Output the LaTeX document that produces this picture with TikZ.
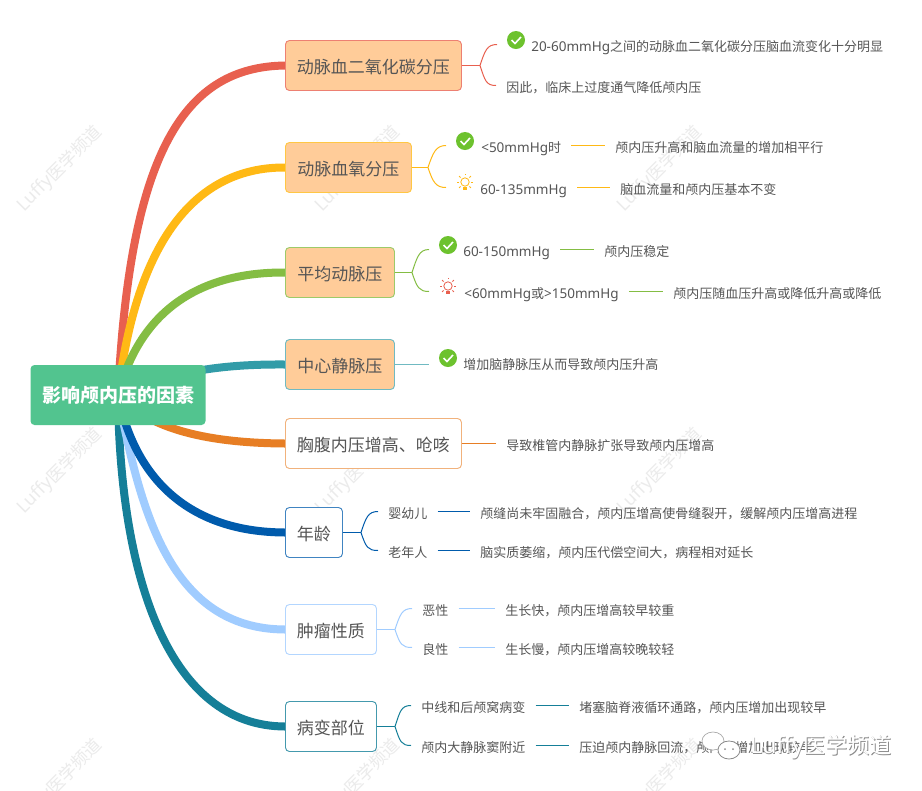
\documentclass[tikz,border=0pt]{standalone}
\usepackage{fontspec}
\setmainfont{Noto Sans CJK SC}
\newfontfamily\latf{Noto Sans}[Scale=1.04]
\usetikzlibrary{backgrounds,positioning}

\definecolor{rootgreen}{HTML}{52C48F}
\definecolor{peach}{HTML}{FFCC99}
\definecolor{inkgray}{HTML}{555555}
\definecolor{wred}{HTML}{E8604F}
\definecolor{wyellow}{HTML}{FFB915}
\definecolor{wgreen}{HTML}{84BD43}
\definecolor{wteal}{HTML}{329CA8}
\definecolor{worange}{HTML}{E77E24}
\definecolor{wblue}{HTML}{005BAC}
\definecolor{wsky}{HTML}{A0CCFF}
\definecolor{wsea}{HTML}{157F98}
\definecolor{okgreen}{HTML}{6DC22E}

\tikzset{
  rootbox/.style={rounded corners=3pt, fill=rootgreen, text=white, minimum width=131.25pt, minimum height=45pt, inner sep=0pt, font=\fontsize{14.25pt}{16pt}\selectfont\bfseries},
  topic/.style={draw=#1, rounded corners=3pt, line width=0.7pt, anchor=west, minimum height=37.5pt, inner sep=0pt, text height=13.5pt, text depth=1.6pt, text=inkgray, font=\fontsize{12.75pt}{15pt}\selectfont},
  leaf/.style={anchor=west, inner xsep=7.5pt, inner ysep=0pt, text height=12pt, text depth=1.2pt, text=inkgray, font=\fontsize{9.75pt}{12pt}\selectfont},
  branch/.style={line width=6pt, draw=#1},
  twig/.style={line width=0.75pt, draw=#1},
  link/.style={line width=1pt, draw=#1},
  stem/.style={line width=1.2pt, draw=#1},
  wmark/.style={rotate=45, text=black!8, font=\fontsize{13pt}{15pt}\selectfont},
  okicon/.style={circle, fill=okgreen, minimum size=13.5pt, inner sep=0pt},
  bulb/.pic={
    \draw[#1, line width=0.6pt] (0,-1) circle (4.2);
    \foreach \a in {0,45,135,180,225,315} \draw[#1, line width=0.6pt] (\a:6.2) ++(0,-1) -- ++(\a:2.2);
    \draw[#1, line width=0.6pt] (0,-9) -- (0,-8.2);
    \fill[#1] (-2.4,4) rectangle (2.4,7);
  },
}

\begin{document}
\begin{tikzpicture}[x=0.75pt, y=-0.75pt]
\useasboundingbox (0,0) rectangle (922,790);

% Centre and main topics
\node[rootbox] (root) at (118,395) {影响颅内压的因素};
\node[topic=wred!80, fill=peach, minimum width=132pt] (co2) at (285,65.5) {动脉血二氧化碳分压};
\node[topic=wyellow!80, fill=peach, minimum width=94.5pt] (o2) at (285,167.5) {动脉血氧分压};
\node[topic=wgreen!80, fill=peach, minimum width=81.75pt] (map) at (285,272.5) {平均动脉压};
\node[topic=wteal!70, fill=peach, minimum width=81.75pt] (cvp) at (285,364.5) {中心静脉压};
\node[topic=worange!60, fill=white, minimum width=132pt] (thorax) at (285,443.5) {胸腹内压增高、呛咳};
\node[topic=wblue!75, fill=white, minimum width=42.75pt] (age) at (285,532.5) {年龄};
\node[topic=wsky!80, fill=white, minimum width=68.25pt] (tumor) at (285,629.5) {肿瘤性质};
\node[topic=wsea!80, fill=white, minimum width=68.25pt] (site) at (285,726.5) {病变部位};

% Main branches and watermark, under the boxes
\begin{scope}[on background layer]
\fill[white] (0,0) rectangle (922,790);
\foreach \x in {60,358,660}
  \foreach \y in {169,471,782}
    \node[wmark] (mark\x\y) at (\x,\y) {{\latf Luffy}医学频道};
\draw[branch=wred] (root.center) .. controls (130,150) and (185,67) .. (co2.west);
\draw[branch=wyellow] (root.center) .. controls (135,250) and (190,167) .. (o2.west);
\draw[branch=wgreen] (root.center) .. controls (140,310) and (200,272) .. (map.west);
\draw[branch=wteal] (root.center) .. controls (170,372) and (220,364) .. (cvp.west);
\draw[branch=worange] (root.center) .. controls (150,430) and (210,443) .. (thorax.west);
\draw[branch=wsea] (root.center) .. controls (120,580) and (170,726) .. (site.west);
\draw[branch=wsky] (root.center) .. controls (140,510) and (170,629) .. (tumor.west);
\draw[branch=wblue] (root.center) .. controls (135,480) and (190,532) .. (age.west);
\end{scope}

% co2
\node[okicon] (co2ok) at (516,40) {};
\draw[white, line width=1.2pt] (511.5,40) -- (515,43.5) -- (521,37);
\coordinate (co2a) at (497,44.5);
\node[leaf] (co2t) at (521,44) {{\latf 20-60mmHg}之间的动脉血二氧化碳分压脑血流变化十分明显};
\node[leaf] (co2b) at (496,85.5) {因此，临床上过度通气降低颅内压};
\draw[stem=wred] (co2.east) -- (480,65.5) coordinate (co2f);
\draw[twig=wred] (co2f) .. controls +(5,-15) and +(-10,0) .. (co2a);
\draw[twig=wred] (co2f) .. controls +(5,15) and +(-10,0) .. (co2b.west);

% o2
\node[okicon] (o2ok) at (465,141) {};
\draw[white, line width=1.2pt] (460.5,141) -- (464,144.5) -- (470,138);
\pic at (465,183) {bulb=wyellow};
\coordinate (o2a) at (446,145.5);
\coordinate (o2b) at (446,187.5);
\node[leaf] (o2t) at (471,145.5) {{\latf <50mmHg}时};
\node[leaf] (o2tr) at (605,145.5) {颅内压升高和脑血流量的增加相平行};
\node[leaf] (o2u) at (470,187.5) {\latf 60-135mmHg};
\node[leaf] (o2ur) at (610,187.5) {脑血流量和颅内压基本不变};
\draw[stem=wyellow] (o2.east) -- (428,167.5) coordinate (o2f);
\draw[twig=wyellow] (o2f) .. controls +(5,-15) and +(-10,0) .. (o2a);
\draw[twig=wyellow] (o2f) .. controls +(5,15) and +(-10,0) .. (o2b);
\draw[link=wyellow] (o2t.east) -- (o2tr.west);
\draw[link=wyellow] (o2u.east) -- (o2ur.west);

% map
\node[okicon] (mapok) at (448,245) {};
\draw[white, line width=1.2pt] (443.5,245) -- (447,248.5) -- (453,242);
\pic at (448,287) {bulb=wred};
\coordinate (mapa) at (429,249.5);
\coordinate (mapb) at (429,291.5);
\node[leaf] (mapt) at (453,249.5) {\latf 60-150mmHg};
\node[leaf] (maptr) at (594,249.5) {颅内压稳定};
\node[leaf] (mapu) at (454,291.5) {{\latf <60mmHg}或{\latf >150mmHg}};
\node[leaf] (mapur) at (663,291.5) {颅内压随血压升高或降低升高或降低};
\draw[stem=wgreen] (map.east) -- (412,272.5) coordinate (mapf);
\draw[twig=wgreen] (mapf) .. controls +(5,-15) and +(-10,0) .. (mapa);
\draw[twig=wgreen] (mapf) .. controls +(5,15) and +(-10,0) .. (mapb);
\draw[link=wgreen] (mapt.east) -- (maptr.west);
\draw[link=wgreen] (mapu.east) -- (mapur.west);

% cvp
\node[okicon] (cvpok) at (448,358) {};
\draw[white, line width=1.2pt] (443.5,358) -- (447,361.5) -- (453,355);
\coordinate (cvpa) at (429,364.5);
\node[leaf] (cvpt) at (453,362) {增加脑静脉压从而导致颅内压升高};
\draw[link=wteal!70] (cvp.east) -- (cvpa);

% thorax
\node[leaf] (thoraxt) at (496,443.5) {导致椎管内静脉扩张导致颅内压增高};
\draw[link=worange] (thorax.east) -- (thoraxt.west);

% age
\node[leaf] (aget) at (378,511.5) {婴幼儿};
\node[leaf] (agetr) at (470,511.5) {颅缝尚未牢固融合，颅内压增高使骨缝裂开，缓解颅内压增高进程};
\node[leaf] (ageu) at (378,550.5) {老年人};
\node[leaf] (ageur) at (470,550.5) {脑实质萎缩，颅内压代偿空间大，病程相对延长};
\draw[stem=wblue] (age.east) -- (361,532.5) coordinate (agef);
\draw[twig=wblue] (agef) .. controls +(5,-15) and +(-10,0) .. (aget.west);
\draw[twig=wblue] (agef) .. controls +(5,15) and +(-10,0) .. (ageu.west);
\draw[link=wblue] (aget.east) -- (agetr.west);
\draw[link=wblue] (ageu.east) -- (ageur.west);

% tumor
\node[leaf] (tumort) at (412,608.5) {恶性};
\node[leaf] (tumortr) at (495,608.5) {生长快，颅内压增高较早较重};
\node[leaf] (tumoru) at (412,647.5) {良性};
\node[leaf] (tumorur) at (495,647.5) {生长慢，颅内压增高较晚较轻};
\draw[stem=wsky] (tumor.east) -- (395,629.5) coordinate (tumorf);
\draw[twig=wsky] (tumorf) .. controls +(5,-15) and +(-10,0) .. (tumort.west);
\draw[twig=wsky] (tumorf) .. controls +(5,15) and +(-10,0) .. (tumoru.west);
\draw[link=wsky] (tumort.east) -- (tumortr.west);
\draw[link=wsky] (tumoru.east) -- (tumorur.west);

% site
\node[leaf] (sitet) at (411,705.5) {中线和后颅窝病变};
\node[leaf] (sitetr) at (569,705.5) {堵塞脑脊液循环通路，颅内压增加出现较早};
\node[leaf] (siteu) at (411,745.5) {颅内大静脉窦附近};
\node[leaf] (siteur) at (569,745.5) {压迫颅内静脉回流，颅内压增加出现较早};
\draw[stem=wsea] (site.east) -- (395,726.5) coordinate (sitef);
\draw[twig=wsea] (sitef) .. controls +(5,-15) and +(-10,0) .. (sitet.west);
\draw[twig=wsea] (sitef) .. controls +(5,15) and +(-10,0) .. (siteu.west);
\draw[link=wsea] (sitet.east) -- (sitetr.west);
\draw[link=wsea] (siteu.east) -- (siteur.west);

% Logo, bottom right
\draw[black!35, line width=0.5pt, fill=white] (713,741) ellipse (11 and 9);
\draw[black!45, line width=0.6pt, fill=white] (729,750) ellipse (11 and 9);
\fill[black!45] (725,749) circle (1) (733,749) circle (1);
\node[anchor=west, inner sep=0pt, text=black!45, font=\fontsize{16.5pt}{18pt}\selectfont] (logos) at (750.6,747.6) {{\latf Luffy}医学频道};
\node[anchor=west, inner sep=0pt, text=white, font=\fontsize{16.5pt}{18pt}\selectfont] (logo) at (750,747) {{\latf Luffy}医学频道};
\end{tikzpicture}
\end{document}
